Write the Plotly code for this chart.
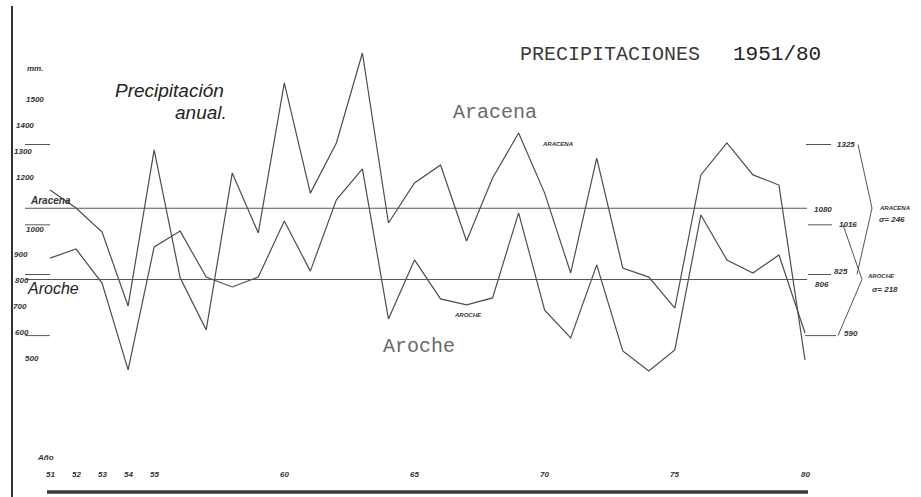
import plotly.graph_objects as go

# ---------------- data ----------------
years = list(range(1951, 1981))
aracena = [1150, 1081, 988, 704, 1304, 812, 612, 1215, 985, 1562,
           1138, 1331, 1677, 1023, 1177, 1246, 954, 1196, 1369, 1138,
           831, 1273, 850, 815, 696, 1208, 1331, 1208, 1169, 496]
aroche = [888, 923, 792, 458, 931, 992, 815, 777, 815, 1031,
          838, 1112, 1231, 654, 881, 731, 708, 735, 1062, 688,
          581, 862, 531, 454, 535, 1054, 881, 831, 900, 600]
aracena_mean = 1080
aroche_mean = 806
aracena_sigma = 246
aroche_sigma = 218
aracena_bounds = [1325, 825]
aroche_bounds = [1016, 590]

y_tick_values = [1500, 1400, 1300, 1200, 1000, 900, 800, 700, 600, 500]
y_tick_labels = ["1500", "1400", "1300", "1200", "1000", "900", "800", "700", "600", "500"]
x_tick_years = [1951, 1952, 1953, 1954, 1955, 1960, 1965, 1970, 1975, 1980]
x_tick_labels = ["51", "52", "53", "54", "55", "60", "65", "70", "75", "80"]

# ---------------- layout helpers ----------------
W, H = 921, 497
Y_LO, Y_HI = -30.77, 1880.77


def px(x):
    return x / W


def py(y):
    return 1 - y / H


def yv(v):
    return (v - Y_LO) / (Y_HI - Y_LO)


LINE = "#4d4d4d"
MARK = "#555555"
HAND = dict(family="Liberation Sans", color="#333333", style="italic", weight="bold")
SCRIPT = dict(family="Liberation Sans", color="#222222", style="italic")

fig = go.Figure()
fig.add_trace(go.Scatter(x=years, y=aracena, mode="lines", name="Aracena",
                         line=dict(color=LINE, width=1.2), showlegend=False))
fig.add_trace(go.Scatter(x=years, y=aroche, mode="lines", name="Aroche",
                         line=dict(color=LINE, width=1.2), showlegend=False))

shapes = []
# mean lines
for m in (aracena_mean, aroche_mean):
    shapes.append(dict(type="line", xref="paper", yref="y", x0=px(25), x1=px(807),
                       y0=m, y1=m, line=dict(color=MARK, width=1.1)))
# short marker lines at the sigma bounds (left side)
for v in aracena_bounds + aroche_bounds:
    shapes.append(dict(type="line", xref="paper", yref="y", x0=px(25), x1=px(50),
                       y0=v, y1=v, line=dict(color=MARK, width=1)))
# right side markers
right_marks = {1325: (806, 831), 825: (808, 831), 1016: (808, 832), 590: (805, 836)}
for v, (a, b) in right_marks.items():
    shapes.append(dict(type="line", xref="paper", yref="y", x0=px(a), x1=px(b),
                       y0=v, y1=v, line=dict(color=MARK, width=1)))


def path_pts(pts):
    s = "M {} {}".format(px(pts[0][0]), yv(pts[0][1]))
    for x, v in pts[1:]:
        s += " L {} {}".format(px(x), yv(v))
    return s


# sigma braces
shapes.append(dict(type="path", xref="paper", yref="paper",
                   path=path_pts([(858, aracena_bounds[0]), (872, aracena_mean), (857, aracena_bounds[1])]),
                   line=dict(color=MARK, width=1)))
shapes.append(dict(type="path", xref="paper", yref="paper",
                   path=path_pts([(843, aroche_bounds[0]), (862, aroche_mean), (838, aroche_bounds[1])]),
                   line=dict(color=MARK, width=1)))
# frame lines: left vertical and bottom thick axis
shapes.append(dict(type="line", xref="paper", yref="paper", x0=px(12), x1=px(12),
                   y0=py(6), y1=py(497), line=dict(color="#333333", width=2)))
shapes.append(dict(type="line", xref="paper", yref="paper", x0=px(47), x1=px(808),
                   y0=py(492), y1=py(492), line=dict(color="#3a3a3a", width=3.5)))

ann = []


def A(text, x, y, size, font=None, xanchor="center", xref="paper", yref="paper"):
    f = dict(font or HAND)
    f["size"] = size
    ann.append(dict(text=text, x=x, y=y, xref=xref, yref=yref, showarrow=False,
                    xanchor=xanchor, yanchor="middle", font=f))


# y tick labels (hand lettered)
y_label_x = [35, 25, 23, 25, 35, 21, 22, 20, 22, 32]
for v, t, xc in zip(y_tick_values, y_tick_labels, y_label_x):
    A(t, px(xc), yv(v), 8)
A("mm.", px(35), py(68), 8)
# x tick labels
for yr, t in zip(x_tick_years, x_tick_labels):
    A(t, yr, py(474), 8, xref="x")
A("Año", px(45), py(457), 8)

# left handwritten series labels
A("Aracena", px(50), py(200), 10)
A("Aroche", px(53), py(288), 16, font=SCRIPT)

# handwritten title
A("Precipitación", px(169), py(91), 19, font=SCRIPT)
A("anual.", px(201), py(112), 19, font=SCRIPT)

# typewriter texts
A("PRECIPITACIONES", px(518), py(55), 20, font=dict(family="Liberation Mono", color="#3a3a3a"), xanchor="left")
A("1951/80", px(731), py(54), 21, font=dict(family="Liberation Mono", color="#222222"), xanchor="left")
A("Aracena", px(495), py(112), 20, font=dict(family="Liberation Mono", color="#6a6a6a"))
A("Aroche", px(419), py(346), 20, font=dict(family="Liberation Mono", color="#6a6a6a"))

# tiny series tags
A("ARACENA", px(557), py(144), 6)
A("AROCHE", px(468), py(315), 6)

# right side value labels
A("1325", px(846), py(144), 8)
A("1080", px(823), py(209), 8)
A("1016", px(848), py(224), 8)
A("825", px(841), py(271), 8)
A("806", px(822), py(284), 8)
A("590", px(851), py(333), 8)
A("ARACENA", px(877), py(208), 6, xanchor="left")
A("σ= " + str(aracena_sigma), px(877), py(219), 8, xanchor="left")
A("AROCHE", px(865), py(276), 6, xanchor="left")
A("σ= " + str(aroche_sigma), px(870), py(289), 8, xanchor="left")

x0 = 1951 - 50 / (755 / 29)
x1 = x0 + W / (755 / 29)
fig.update_layout(
    width=W, height=H, margin=dict(l=0, r=0, t=0, b=0),
    paper_bgcolor="white", plot_bgcolor="white",
    xaxis=dict(range=[x0, x1], visible=False, fixedrange=True),
    yaxis=dict(range=[Y_LO, Y_HI], visible=False, fixedrange=True),
    shapes=shapes, annotations=ann, showlegend=False,
)
fig.write_html("out.html", config={"displayModeBar": False},
               post_script="document.body.style.margin='0';document.body.style.overflow='hidden';")
